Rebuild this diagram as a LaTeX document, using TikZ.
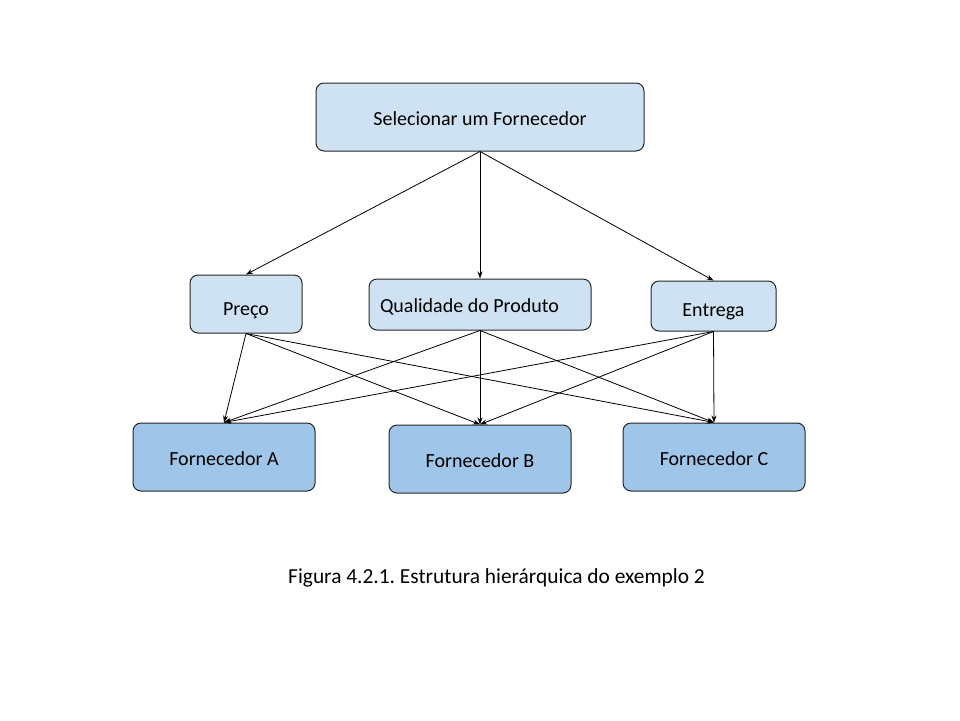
\documentclass[tikz,border=0pt]{standalone}
\usepackage{fontspec}
\setmainfont{Carlito}
\usetikzlibrary{arrows.meta}
\usetikzlibrary{positioning}

\definecolor{azulclaro}{RGB}{207,226,243}
\definecolor{azulmedio}{RGB}{159,197,232}

\tikzset{
  caixa/.style={draw=black!85, line width=1pt, rounded corners=8pt, inner sep=0pt,
    text height=18pt, text depth=2pt, font=\fontsize{20}{24}\selectfont},
  criterio/.style={caixa, fill=azulclaro},
  alternativa/.style={caixa, fill=azulmedio, minimum width=182pt, minimum height=68pt},
  seta/.style={-{Stealth[length=7pt,width=5pt]}, line width=0.8pt}
}

\begin{document}
\frenchspacing
\begin{tikzpicture}[x=1pt,y=-1pt]
  \useasboundingbox (0,0) rectangle (960,720);
  % objetivo
  \node[criterio, minimum width=328pt, minimum height=68pt] (objetivo) at (480,117) {Selecionar um Fornecedor};
  % criterios
  \node[criterio, minimum width=112pt, minimum height=58pt, text height=22pt, text depth=0pt] (preco) at (246,304) {Preço};
  \node[criterio, minimum height=51pt, inner xsep=11pt] (qualidade) at (480,304.5) {\makebox[200pt][l]{Qualidade do Produto}};
  \node[criterio, minimum width=125pt, minimum height=50pt, text height=20pt, text depth=0pt] (entrega) at (713.5,306) {Entrega};
  % alternativas
  \node[alternativa] (fornA) at (224,457) {Fornecedor A};
  \node[alternativa] (fornB) at (480,459) {Fornecedor B};
  \node[alternativa] (fornC) at (714,457) {Fornecedor C};
  % ligacoes
  \foreach \c in {preco,qualidade,entrega}
    \draw[seta] (objetivo.south) -- (\c.north);
  \foreach \c in {preco,qualidade,entrega}
    \foreach \f in {fornA,fornB,fornC}
      \draw[seta] (\c.south) -- (\f.north);
  % legenda
  \node[font=\fontsize{21.4}{25}\selectfont, anchor=base] (legenda) at (496.5,583) {Figura 4.2.1. Estrutura hierárquica do exemplo 2};
\end{tikzpicture}
\end{document}
